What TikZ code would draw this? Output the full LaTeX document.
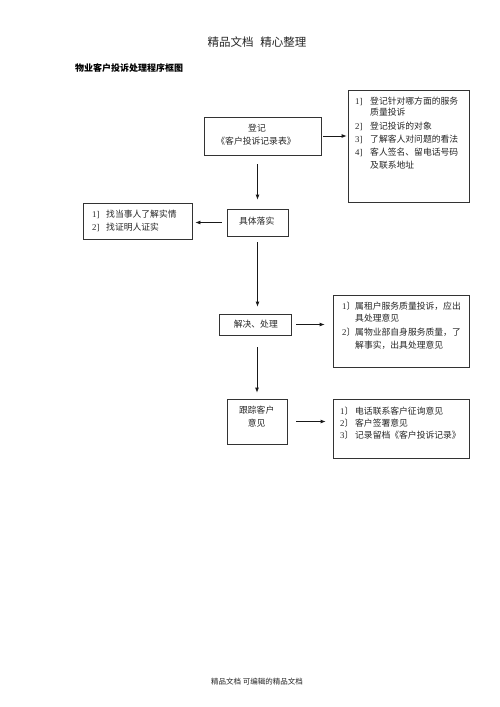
\documentclass[tikz,border=0pt]{standalone}
\usepackage{fontspec}
\setmainfont{Noto Sans CJK SC}
\newfontfamily\lat{Liberation Serif}
\usetikzlibrary{arrows.meta}
\begin{document}
\begin{tikzpicture}[x=1pt,y=-1pt,
  frame/.style={draw=black!80,line width=0.8pt,inner sep=0pt},
  txt/.style={inner sep=0pt,text=black!85,font=\fontsize{8.8}{13}\selectfont},
  item/.style={txt,anchor=west},
  arr/.style={-{Latex[length=5pt,width=4pt]},line width=0.8pt,draw=black!90}]
\fill[white] (0,0) rectangle (500,707);
\useasboundingbox (0,0) rectangle (500,707);
% headings
\node[inner sep=0pt,text=black!85,font=\fontsize{11.5}{13}\selectfont] (title) at (257,42) {精品文档\hspace{4pt} 精心整理};
\node[inner sep=0pt,anchor=west,text=black,font=\fontsize{9}{11}\selectfont\bfseries] (sub) at (75,68) {物业客户投诉处理程序框图};
\node[inner sep=0pt,text=black!85,font=\fontsize{7.5}{9}\selectfont] (foot) at (257,682) {精品文档 可编辑的精品文档};
% main boxes
\node[frame,minimum width=117pt,minimum height=38pt] (reg) at (262.5,136) {};
\node[txt] (regA) at (257,128) {登记};
\node[txt] (regB) at (256,141) {《客户投诉记录表》};
\node[frame,minimum width=61pt,minimum height=27pt] (impl) at (257.5,222.5) {};
\node[txt] (implA) at (256.7,221) {具体落实};
\node[frame,minimum width=72pt,minimum height=21pt] (solve) at (255,324.5) {};
\node[txt] (solveA) at (255.8,324) {解决、处理};
\node[frame,minimum width=60pt,minimum height=45pt] (track) at (257,421.5) {};
\node[txt] (trackA) at (256.7,410) {跟踪客户};
\node[txt] (trackB) at (256.7,423) {意见};
% note boxes
\node[frame,minimum width=121pt,minimum height=112pt] (note1) at (408.5,146) {};
\node[item] (n1a) at (355,101) {\makebox[15pt][l]{\lat 1]}登记针对哪方面的服务};
\node[item] (n1b) at (370,112.5) {质量投诉};
\node[item] (n1c) at (355,126.5) {\makebox[15pt][l]{\lat 2]}登记投诉的对象};
\node[item] (n1d) at (355,139) {\makebox[15pt][l]{\lat 3]}了解客人对问题的看法};
\node[item] (n1e) at (355,152) {\makebox[15pt][l]{\lat 4]}客人签名、留电话号码};
\node[item] (n1f) at (370,165) {及联系地址};
\node[frame,minimum width=109pt,minimum height=36pt] (note2) at (137.5,221) {};
\node[item] (n2a) at (92,214) {\makebox[14pt][l]{\lat 1]}找当事人了解实情};
\node[item] (n2b) at (92,227) {\makebox[14pt][l]{\lat 2]}找证明人证实};
\node[frame,minimum width=136pt,minimum height=72pt] (note3) at (401,331) {};
\node[item] (n3a) at (342,306) {\makebox[13pt][l]{{\lat 1}〕}属租户服务质量投诉，应出};
\node[item] (n3b) at (355,318.5) {具处理意见};
\node[item] (n3c) at (342,332) {\makebox[13pt][l]{{\lat 2}〕}属物业部自身服务质量，了};
\node[item] (n3d) at (355,345) {解事实，出具处理意见};
\node[frame,minimum width=136pt,minimum height=59pt] (note4) at (401,428.5) {};
\node[item] (n4a) at (340,411) {\makebox[15pt][l]{{\lat 1}〕}电话联系客户征询意见};
\node[item] (n4b) at (340,423) {\makebox[15pt][l]{{\lat 2}〕}客户签署意见};
\node[item] (n4c) at (340,435) {\makebox[15pt][l]{{\lat 3}〕}记录留档《客户投诉记录》};
% connectors
\draw[arr,shorten <=2pt,shorten >=1pt] (reg.east) -- (reg.east -| note1.west);
\draw[arr,shorten <=9pt,shorten >=9pt] (reg.south -| impl.north) -- (impl.north);
\draw[arr,shorten <=5pt,shorten >=3pt] (impl.west) -- (impl.west -| note2.east);
\draw[arr,shorten <=6pt,shorten >=7pt] (impl.south) -- (impl.south |- solve.north);
\draw[arr,shorten <=5pt,shorten >=8pt] (solve.east) -- (solve.east -| note3.west);
\draw[arr,shorten <=12pt,shorten >=6pt] (solve.south -| track.north) -- (track.north);
\draw[arr,shorten <=9pt,shorten >=7pt] (track.east) -- (track.east -| note4.west);
\end{tikzpicture}
\end{document}
